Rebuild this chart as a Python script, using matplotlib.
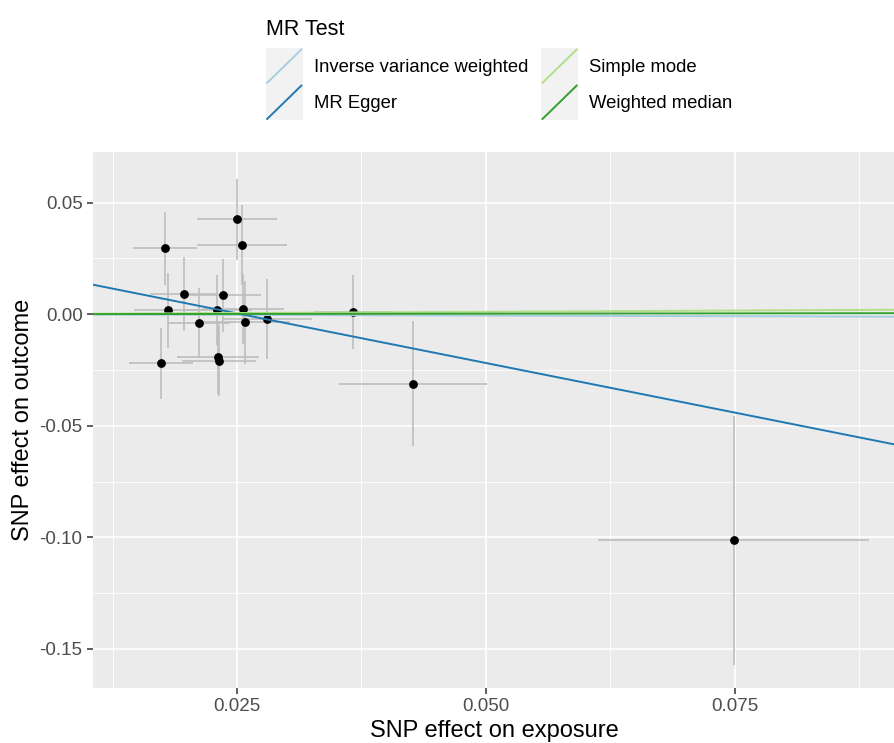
import matplotlib
matplotlib.use("Agg")
import matplotlib.pyplot as plt
import numpy as np
from matplotlib.legend_handler import HandlerBase
from matplotlib.patches import Rectangle
from matplotlib.lines import Line2D

plt.rcParams['font.family'] = ['Liberation Sans', 'DejaVu Sans']

# SNP data
beta_exp = [0.0250, 0.0255, 0.0178, 0.0197, 0.0236, 0.0181, 0.0230, 0.0256, 0.0212,
            0.0258, 0.0280, 0.0231, 0.0232, 0.0174, 0.0367, 0.0427, 0.0749]
beta_out = [0.0425, 0.0311, 0.0296, 0.0092, 0.0084, 0.0017, 0.0020, 0.0024, -0.0039,
            -0.0037, -0.0022, -0.0193, -0.0208, -0.0220, 0.0010, -0.0311, -0.1014]
se_exp = [0.0040, 0.0045, 0.0032, 0.0034, 0.0038, 0.0034, 0.0035, 0.0041, 0.0031,
          0.0045, 0.0045, 0.0041, 0.0037, 0.0032, 0.0040, 0.0074, 0.0136]
se_out = [0.0180, 0.0178, 0.0163, 0.0166, 0.0163, 0.0167, 0.0158, 0.0158, 0.0157,
          0.0185, 0.0180, 0.0164, 0.0160, 0.0160, 0.0164, 0.0280, 0.0560]

# MR methods (intercept, slope)
methods = ["Inverse variance weighted", "MR Egger", "Simple mode", "Weighted median"]
intercepts = [0.0, 0.0226, 0.0, 0.0]
slopes = [-0.012, -0.889, 0.022, 0.005]
colors = ["#A6CEE3", "#1F78B4", "#B2DF8A", "#33A02C"]

x_ticks = [0.025, 0.050, 0.075]
y_ticks = [0.05, 0.00, -0.05, -0.10, -0.15]

fig = plt.figure(figsize=(8.95, 7.43), dpi=100)
ax = fig.add_axes([93/895, 1-688/743, 1-93/895, (688-152)/743])
ax.set_facecolor("#EBEBEB")

xlim = (0.01054, 0.0911)
ylim = (-0.1675, 0.0727)
ax.set_xlim(*xlim)
ax.set_ylim(*ylim)

ax.set_xticks(x_ticks)
ax.set_xticklabels([f"{v:.3f}" for v in x_ticks])
ax.set_yticks(y_ticks)
ax.set_yticklabels([f"{v:.2f}" for v in y_ticks])
ax.set_xticks([0.0125, 0.0375, 0.0625, 0.0875], minor=True)
ax.set_yticks([0.025, -0.025, -0.075, -0.125], minor=True)
ax.grid(which='major', color='white', linewidth=1.2)
ax.grid(which='minor', color='white', linewidth=0.6)
ax.set_axisbelow(True)
for s in ax.spines.values():
    s.set_visible(False)
ax.tick_params(which='major', length=4.5, width=1.1, color='#333333', labelcolor='#4D4D4D',
               labelsize=13.5, pad=3)
ax.tick_params(which='minor', length=0)

ax.errorbar(beta_exp, beta_out, xerr=se_exp, yerr=se_out, fmt='none',
            ecolor='#BEBEBE', elinewidth=1.2, capsize=0, zorder=2)
ax.scatter(beta_exp, beta_out, s=40, color='black', zorder=3, linewidths=0)

xs = np.array(xlim)
for b0, b1, c in zip(intercepts, slopes, colors):
    ax.plot(xs, b0 + b1 * xs, color=c, linewidth=1.4, zorder=4)

ax.set_xlabel("SNP effect on exposure", fontsize=17, color='black', labelpad=3)
ax.set_ylabel("SNP effect on outcome", fontsize=17, color='black', labelpad=4)


class DiagHandler(HandlerBase):
    def create_artists(self, legend, orig_handle, xdescent, ydescent, width, height, fontsize, trans):
        r = Rectangle((-xdescent, -ydescent), width, height, facecolor='#F2F2F2',
                      edgecolor='none', transform=trans)
        l = Line2D([-xdescent + 1, -xdescent + width - 1], [-ydescent + 1, -ydescent + height - 1],
                   color=orig_handle.get_color(), linewidth=1.4, transform=trans)
        return [r, l]


handles = [Line2D([], [], color=c) for c in colors]
leg = fig.legend(handles, methods, loc='upper left', bbox_to_anchor=(251/895, 1-4/743),
                 ncol=2, frameon=False, title="MR Test", title_fontsize=15.5,
                 fontsize=13.3, handler_map={Line2D: DiagHandler()},
                 handlelength=2.0, handleheight=2.63, handletextpad=0.6,
                 columnspacing=0.7, labelspacing=0.0, alignment='left', borderpad=0.3)
leg._legend_box.sep = 6

fig.savefig("out.png", dpi=100)
